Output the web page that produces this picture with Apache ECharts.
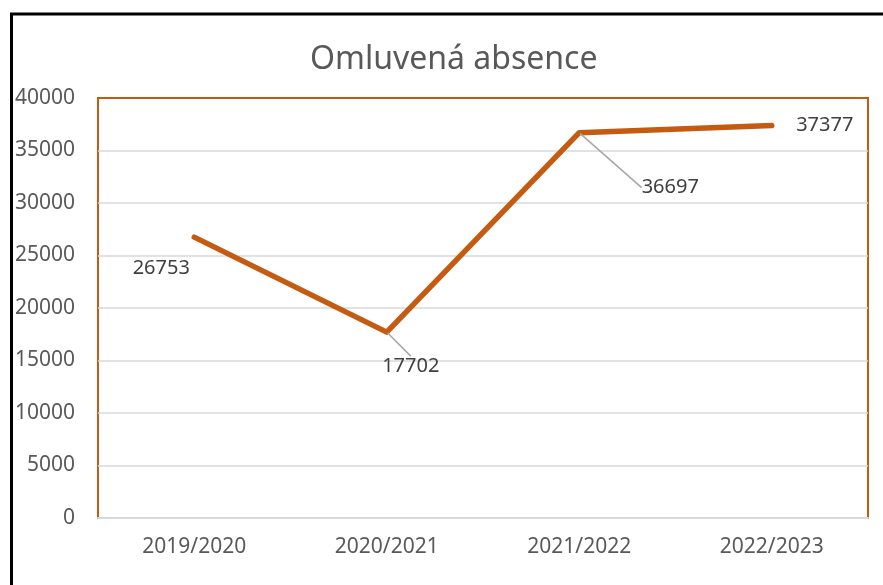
<!DOCTYPE html>
<html>
<head>
<meta charset="utf-8">
<script src="https://cdn.jsdelivr.net/npm/echarts@6/dist/echarts.min.js"></script>
<style>
  html, body { margin: 0; padding: 0; background: #fff; }
  #main { width: 883px; height: 585px; }
</style>
</head>
<body>
<div id="main"></div>
<script>
var years = ['2019/2020', '2020/2021', '2021/2022', '2022/2023'];
var absence = [26753, 17702, 36697, 37377];
var yTicks = [0, 5000, 10000, 15000, 20000, 25000, 30000, 35000, 40000];

var chartDom = document.getElementById('main');
var myChart = echarts.init(chartDom);
var option;

// label shifts, like the ones dragged around in the original
var labelShift = [
  { dx: -33, dy: 31, line: false },
  { dx: 24, dy: 34, line: true },
  { dx: 91, dy: 55, line: true },
  { dx: 53, dy: 0, line: false }
];

var orange = '#C55A11';
var grey = '#D9D9D9';

// top gridline is the orange plot border
var splitColors = yTicks.map(function (t, i) {
  return i === yTicks.length - 1 ? orange : grey;
});

option = {
  animation: false,
  backgroundColor: '#fff',
  textStyle: { fontFamily: 'Noto Sans' },
  title: {
    text: 'Omluvená absence',
    left: 305,
    top: 39,
    textStyle: { fontSize: 32, fontWeight: 'normal', color: '#595959', fontFamily: 'Noto Sans' }
  },
  graphic: [{
    type: 'rect',
    shape: { x: 11.5, y: 14, width: 900, height: 620 },
    style: { fill: null, stroke: '#000', lineWidth: 3 },
    silent: true
  }],
  grid: {
    left: 98, top: 98, right: 15, bottom: 67,
    show: true,
    borderColor: orange,
    borderWidth: 2
  },
  xAxis: {
    type: 'category',
    data: years,
    boundaryGap: true,
    axisTick: { show: false },
    axisLine: { lineStyle: { color: grey, width: 2 } },
    axisLabel: { color: '#595959', fontSize: 21, margin: 19 }
  },
  yAxis: {
    type: 'value',
    min: yTicks[0],
    max: yTicks[yTicks.length - 1],
    interval: yTicks[1] - yTicks[0],
    axisLine: { show: false },
    axisTick: { show: false },
    axisLabel: {
      color: '#595959', fontSize: 21, margin: 23,
      formatter: function (v) { return String(v); }
    },
    splitLine: { lineStyle: { color: splitColors, width: 1.5 } }
  },
  series: [{
    type: 'line',
    data: absence.map(function (v, i) {
      return { value: v, labelLine: { show: labelShift[i].line } };
    }),
    symbol: 'circle',
    symbolSize: 2,
    itemStyle: { color: orange },
    lineStyle: { color: orange, width: 5.5, cap: 'round', join: 'round' },
    label: {
      show: true,
      position: 'inside',
      color: '#404040',
      fontSize: 20
    },
    labelLine: {
      show: true,
      lineStyle: { color: '#A6A6A6', width: 1.5 }
    },
    labelLayout: function (params) {
      var s = labelShift[params.dataIndex];
      return { dx: s.dx, dy: s.dy };
    }
  }]
};

option && myChart.setOption(option);
</script>
</body>
</html>
